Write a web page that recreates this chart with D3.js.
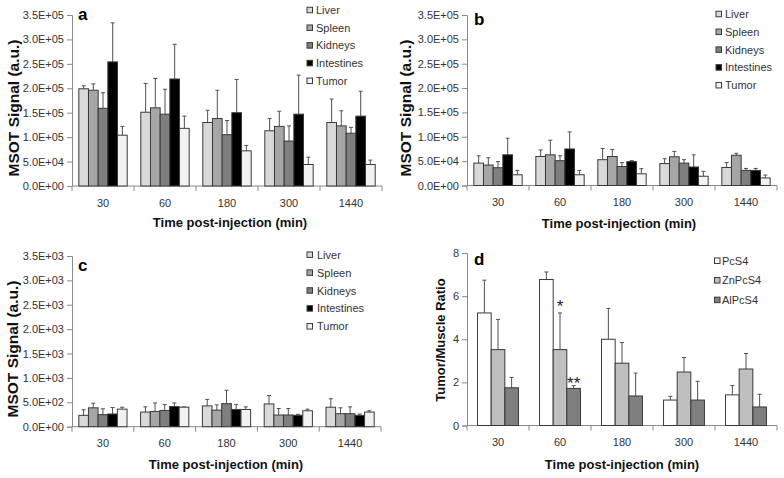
<!DOCTYPE html>
<html>
<head>
<meta charset="utf-8">
<script src="https://cdn.jsdelivr.net/npm/d3@7"></script>
<style>
  html, body { margin: 0; padding: 0; background: #fff; }
  svg { display: block; font-family: "Liberation Sans", Arial, sans-serif; }
</style>
</head>
<body>
<svg id="chart" width="784" height="478"></svg>
<script>
// ---------------- DATA ----------------
const categories = ["30", "60", "180", "300", "1440"];
const organs = ["Liver", "Spleen", "Kidneys", "Intestines", "Tumor"];
const dyes = ["PcS4", "ZnPcS4", "AlPcS4"];

// Panel a (a.u.)
const aLiver      = [199000, 151000, 130000, 113000, 130000];
const aLiverErr   = [6000, 59000, 25000, 25000, 48000];
const aSpleen     = [196000, 160000, 138000, 122000, 123000];
const aSpleenErr  = [13000, 60000, 58000, 31000, 31000];
const aKidneys    = [159000, 147000, 105000, 92000, 108000];
const aKidneysErr = [32000, 51000, 29000, 31000, 12000];
const aIntestines    = [254000, 219000, 150000, 147000, 143000];
const aIntestinesErr = [80000, 71000, 68000, 80000, 51000];
const aTumor      = [104000, 118000, 72000, 44000, 44000];
const aTumorErr   = [18000, 25000, 11000, 15000, 9000];

// Panel b (a.u.)
const bLiver      = [46000, 59500, 53000, 45000, 37000];
const bLiverErr   = [15000, 13500, 23000, 10000, 10000];
const bSpleen     = [42000, 63000, 59500, 59000, 62000];
const bSpleenErr  = [15000, 30000, 14500, 11000, 4000];
const bKidneys    = [36500, 51000, 39000, 46000, 31000];
const bKidneysErr = [12500, 10000, 8000, 7000, 4000];
const bIntestines    = [63000, 75000, 49000, 38000, 31000];
const bIntestinesErr = [34000, 35000, 2000, 25000, 4000];
const bTumor      = [22000, 22000, 24000, 19000, 15500];
const bTumorErr   = [9000, 9000, 10500, 10000, 6000];

// Panel c (a.u.)
const cLiver      = [233, 300, 427, 467, 400];
const cLiverErr   = [114, 107, 133, 173, 173];
const cSpleen     = [387, 313, 340, 240, 267];
const cSpleenErr  = [93, 174, 107, 133, 120];
const cKidneys    = [247, 333, 473, 240, 267];
const cKidneysErr = [120, 120, 274, 133, 140];
const cIntestines    = [260, 413, 353, 233, 233];
const cIntestinesErr = [133, 74, 100, 20, 27];
const cTumor      = [360, 400, 353, 327, 300];
const cTumorErr   = [40, 5, 54, 33, 27];

// Panel d (ratio)
const dPcS4      = [5.22, 6.77, 4.00, 1.18, 1.42];
const dPcS4Err   = [1.52, 0.35, 1.43, 0.17, 0.43];
const dZnPcS4    = [3.52, 3.52, 2.89, 2.48, 2.62];
const dZnPcS4Err = [1.40, 1.70, 0.96, 0.67, 0.72];
const dAlPcS4    = [1.75, 1.72, 1.37, 1.18, 0.86];
const dAlPcS4Err = [0.48, 0.13, 1.06, 0.87, 0.59];

// significance marks: [series, category, label]
const dMarks = [["ZnPcS4", "60", "*"], ["AlPcS4", "60", "**"]];

const yTicksA = [0, 50000, 100000, 150000, 200000, 250000, 300000, 350000];
const yTicksC = [0, 500, 1000, 1500, 2000, 2500, 3000, 3500];
const yTicksD = [0, 2, 4, 6, 8];

// ---------------- STYLE / LAYOUT ----------------
const organColors = ["#d9d9d9", "#a6a6a6", "#7f7f7f", "#000000", "#f2f2f2"];
const dyeColors = ["#ffffff", "#bfbfbf", "#7f7f7f"];
const axisColor = "#8a8a8a";
const textColor = "#333333";
const markOffsets = [-1, 3];

function sciFmt(v) {
  if (v === 0) return "0.0E+00";
  const e = Math.floor(Math.log10(v) + 1e-9);
  const m = v / Math.pow(10, e);
  return m.toFixed(1) + "E+" + String(e).padStart(2, "0");
}

const panels = [
  {
    letter: "a", series: organs, colors: organColors,
    means: [aLiver, aSpleen, aKidneys, aIntestines, aTumor],
    errs: [aLiverErr, aSpleenErr, aKidneysErr, aIntestinesErr, aTumorErr],
    ticks: yTicksA, fmt: sciFmt, ymax: 350000,
    L: 72, R: 382, T: 15, B: 186, frac: 0.78,
    ytitle: "MSOT Signal (a.u.)", ytx: 13, yty: 108, ytSize: 15.5,
    letterX: 78, letterY: 20,
    legX: 307, legTextX: 316, legY: 10, legStep: 17.7,
    xtitleX: 230, xtitleY: 227
  },
  {
    letter: "b", series: organs, colors: organColors,
    means: [bLiver, bSpleen, bKidneys, bIntestines, bTumor],
    errs: [bLiverErr, bSpleenErr, bKidneysErr, bIntestinesErr, bTumorErr],
    ticks: yTicksA, fmt: sciFmt, ymax: 350000,
    L: 467, R: 777, T: 15, B: 185.5, frac: 0.78,
    ytitle: "MSOT Signal (a.u.)", ytx: 405, yty: 108, ytSize: 15.5,
    letterX: 474, letterY: 25,
    legX: 716, legTextX: 725, legY: 14, legStep: 17.8,
    xtitleX: 619, xtitleY: 227.5
  },
  {
    letter: "c", series: organs, colors: organColors,
    means: [cLiver, cSpleen, cKidneys, cIntestines, cTumor],
    errs: [cLiverErr, cSpleenErr, cKidneysErr, cIntestinesErr, cTumorErr],
    ticks: yTicksC, fmt: sciFmt, ymax: 3500,
    L: 72, R: 381, T: 256, B: 426.7, frac: 0.78,
    ytitle: "MSOT Signal (a.u.)", ytx: 12, yty: 349, ytSize: 15.5,
    letterX: 78, letterY: 271,
    legX: 307, legTextX: 317, legY: 254.7, legStep: 17.9,
    xtitleX: 226, xtitleY: 468.5
  },
  {
    letter: "d", series: dyes, colors: dyeColors,
    means: [dPcS4, dZnPcS4, dAlPcS4],
    errs: [dPcS4Err, dZnPcS4Err, dAlPcS4Err],
    ticks: yTicksD, fmt: d3.format("d"), ymax: 8,
    L: 467, R: 777, T: 253, B: 425.5, frac: 0.66,
    ytitle: "Tumor/Muscle Ratio", ytx: 440, yty: 340, ytSize: 13,
    letterX: 474, letterY: 264.5,
    legX: 714.5, legTextX: 722, legY: 260.7, legStep: 19.6,
    xtitleX: 622, xtitleY: 469,
    marks: dMarks
  }
];

const svg = d3.select("#chart");

panels.forEach(p => {
  const g = svg.append("g");
  const x0 = d3.scaleBand().domain(categories).range([p.L, p.R]).padding(0);
  const bw = x0.bandwidth();
  const inner0 = bw * (1 - p.frac) / 2;
  const x1 = d3.scaleBand().domain(p.series).range([inner0, inner0 + bw * p.frac]).padding(0);
  const y = d3.scaleLinear().domain([0, p.ymax]).range([p.B, p.T]);

  // Y axis
  const yAxis = g.append("g").attr("transform", `translate(${p.L},0)`)
    .call(d3.axisLeft(y).tickValues(p.ticks).tickFormat(p.fmt).tickSize(5).tickPadding(3));
  yAxis.select(".domain").attr("stroke", axisColor);
  yAxis.selectAll(".tick line").attr("stroke", axisColor);
  yAxis.selectAll(".tick text").attr("fill", textColor).style("font-size", "11px")
    .style("font-family", '"Liberation Sans", Arial, sans-serif');

  // X axis: ticks at category boundaries
  const boundaries = categories.map(c => x0(c)).concat([p.R]);
  const xAxisG = g.append("g");
  xAxisG.append("line").attr("x1", p.L).attr("x2", p.R).attr("y1", p.B).attr("y2", p.B)
    .attr("stroke", axisColor);
  xAxisG.selectAll("line.bt").data(boundaries).enter().append("line")
    .attr("class", "bt")
    .attr("x1", d => d).attr("x2", d => d).attr("y1", p.B).attr("y2", p.B + 5)
    .attr("stroke", axisColor);
  xAxisG.selectAll("text").data(categories).enter().append("text")
    .attr("x", d => x0(d) + bw / 2).attr("y", p.B + 20.7)
    .attr("text-anchor", "middle").attr("fill", textColor).style("font-size", "11px")
    .text(d => d);

  // Bars & error bars
  p.series.forEach((s, si) => {
    const sg = g.append("g");
    const data = categories.map((c, ci) => ({ c, v: p.means[si][ci], e: p.errs[si][ci] }));
    sg.selectAll("line.err").data(data).enter().append("line")
      .attr("x1", d => x0(d.c) + x1(s) + x1.bandwidth() / 2)
      .attr("x2", d => x0(d.c) + x1(s) + x1.bandwidth() / 2)
      .attr("y1", d => y(d.v)).attr("y2", d => y(d.v + d.e))
      .attr("stroke", "#505050").attr("stroke-width", 1);
    sg.selectAll("line.cap").data(data).enter().append("line")
      .attr("x1", d => x0(d.c) + x1(s) + x1.bandwidth() / 2 - 2)
      .attr("x2", d => x0(d.c) + x1(s) + x1.bandwidth() / 2 + 2)
      .attr("y1", d => y(d.v + d.e)).attr("y2", d => y(d.v + d.e))
      .attr("stroke", "#505050").attr("stroke-width", 1);
    sg.selectAll("rect").data(data).enter().append("rect")
      .attr("x", d => x0(d.c) + x1(s))
      .attr("width", x1.bandwidth())
      .attr("y", d => y(d.v))
      .attr("height", d => y(0) - y(d.v))
      .attr("fill", p.colors[si])
      .attr("stroke", "#3a3a3a").attr("stroke-width", 1);
  });

  // significance marks
  if (p.marks) {
    p.marks.forEach(([s, c, lab], mi) => {
      const si = p.series.indexOf(s);
      const ci = categories.indexOf(c);
      g.append("text")
        .attr("x", x0(c) + x1(s) + x1.bandwidth() / 2)
        .attr("y", y(p.means[si][ci] + p.errs[si][ci]) + markOffsets[mi])
        .attr("text-anchor", "middle").attr("fill", "#222")
        .style("font-size", "17px")
        .text(lab);
    });
  }

  // Panel letter
  g.append("text").attr("x", p.letterX).attr("y", p.letterY)
    .style("font-size", "17px").style("font-weight", "bold").attr("fill", "#000")
    .text(p.letter);

  // Y title
  g.append("text")
    .attr("transform", `translate(${p.ytx + p.ytSize * 0.36},${p.yty}) rotate(-90)`)
    .attr("text-anchor", "middle").style("font-size", p.ytSize + "px").style("font-weight", "bold")
    .attr("fill", "#111").text(p.ytitle);

  // X title
  g.append("text").attr("x", p.xtitleX).attr("y", p.xtitleY)
    .attr("text-anchor", "middle").style("font-size", "13px").style("font-weight", "bold")
    .attr("fill", "#111").text("Time post-injection (min)");

  // Legend
  const leg = g.append("g");
  p.series.forEach((s, si) => {
    const cy = p.legY + si * p.legStep;
    leg.append("rect").attr("x", p.legX).attr("y", cy - 2.75).attr("width", 5.5).attr("height", 5.5)
      .attr("fill", p.colors[si]).attr("stroke", "#3a3a3a").attr("stroke-width", 1);
    leg.append("text").attr("x", p.legTextX).attr("y", cy + 4)
      .style("font-size", "11px").attr("fill", textColor).text(s);
  });
});
</script>
</body>
</html>
